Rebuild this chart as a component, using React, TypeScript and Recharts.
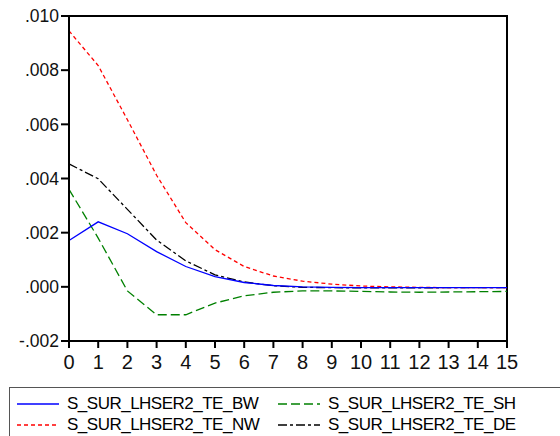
import React from 'react';
import { LineChart, Line, XAxis, YAxis, ReferenceArea } from 'recharts';

// impulse responses, periods 0..15
const periods = [0, 1, 2, 3, 4, 5, 6, 7, 8, 9, 10, 11, 12, 13, 14, 15];
const bw = [0.00171, 0.0024, 0.00196, 0.0013, 0.00075, 0.00038, 0.00016, 0.00005, 0.0, -0.00002, -0.00003, -0.00003, -0.00003, -0.00003, -0.00003, -0.00003];
const nw = [0.00945, 0.00817, 0.00617, 0.00412, 0.00237, 0.00137, 0.00075, 0.0004, 0.00021, 0.0001, 0.00003, 0.0, -0.00002, -0.00003, -0.00003, -0.00003];
const sh = [0.0036, 0.0018, -0.00015, -0.00103, -0.00103, -0.0006, -0.00033, -0.0002, -0.00015, -0.00015, -0.00017, -0.00019, -0.0002, -0.00019, -0.00018, -0.00017];
const de = [0.00454, 0.00399, 0.00286, 0.00173, 0.00096, 0.00044, 0.00018, 0.00004, -0.00002, -0.00003, -0.00004, -0.00004, -0.00004, -0.00003, -0.00003, -0.00003];
const yTicks = [-0.002, 0, 0.002, 0.004, 0.006, 0.008, 0.01];

const data = periods.map((p, i) => ({ period: p, bw: bw[i], nw: nw[i], sh: sh[i], de: de[i] }));

const SERIES = [
  { key: 'bw', name: 'S_SUR_LHSER2_TE_BW', color: '#0000ff', dash: undefined },
  { key: 'sh', name: 'S_SUR_LHSER2_TE_SH', color: '#008000', dash: '9 4' },
  { key: 'nw', name: 'S_SUR_LHSER2_TE_NW', color: '#ff0000', dash: '4 3' },
  { key: 'de', name: 'S_SUR_LHSER2_TE_DE', color: '#000000', dash: '9 3 3 3' },
];

const fmtY = (v: number) => {
  const s = v.toFixed(3);
  return s.replace(/^(-?)0\./, '$1.');
};

const font = 'Arial, "Liberation Sans", sans-serif';

const LegendItem = ({ s, left, top }: any) => (
  <div style={{ position: 'absolute', left, top, height: 21, display: 'flex', alignItems: 'center' }}>
    <svg width={42} height={4} style={{ marginRight: 8 }}>
      <line x1={0} y1={2} x2={42} y2={2} stroke={s.color} strokeWidth={1.3} strokeDasharray={s.dash} />
    </svg>
    <span style={{ fontSize: 17, letterSpacing: -0.5, color: '#000', whiteSpace: 'nowrap' }}>{s.name}</span>
  </div>
);

export default function App() {
  return (
    <div style={{ position: 'absolute', left: 0, top: 0, width: 560, height: 436, overflow: 'hidden', background: '#fff', fontFamily: font }}>
      <LineChart width={560} height={380} data={data} margin={{ top: 16, right: 53, left: 0, bottom: 9 }}>
        <XAxis
          dataKey="period"
          type="number"
          domain={[0, 15]}
          ticks={periods}
          interval={0}
          stroke="#000"
          strokeWidth={2}
          tickSize={7}
          tickMargin={7}
          height={30}
          tick={{ fill: '#111', fontSize: 20, fontFamily: font }}
        />
        <YAxis
          type="number"
          domain={[-0.002, 0.01]}
          ticks={yTicks}
          tickFormatter={fmtY}
          stroke="#000"
          strokeWidth={2}
          tickSize={8}
          tickMargin={2}
          width={69}
          tick={{ fill: '#111', fontSize: 17.5, fontFamily: font }}
        />
        <ReferenceArea x1={0} x2={15} y1={-0.002} y2={0.01} fill="none" stroke="#000" strokeWidth={2} ifOverflow="visible" />
        <Line dataKey="sh" stroke="#008000" strokeWidth={1.3} strokeDasharray="9 4" dot={false} isAnimationActive={false} />
        <Line dataKey="de" stroke="#000000" strokeWidth={1.3} strokeDasharray="9 3 3 3" dot={false} isAnimationActive={false} />
        <Line dataKey="nw" stroke="#ff0000" strokeWidth={1.3} strokeDasharray="4 3" dot={false} isAnimationActive={false} />
        <Line dataKey="bw" stroke="#0000ff" strokeWidth={1.3} dot={false} isAnimationActive={false} />
      </LineChart>
      <div style={{ position: 'absolute', left: 9, top: 387, width: 580, height: 70, border: '1px solid #555', boxSizing: 'border-box' }} />
      <LegendItem s={SERIES[0]} left={17} top={393} />
      <LegendItem s={SERIES[1]} left={278} top={393} />
      <LegendItem s={SERIES[2]} left={17} top={414} />
      <LegendItem s={SERIES[3]} left={278} top={414} />
    </div>
  );
}
